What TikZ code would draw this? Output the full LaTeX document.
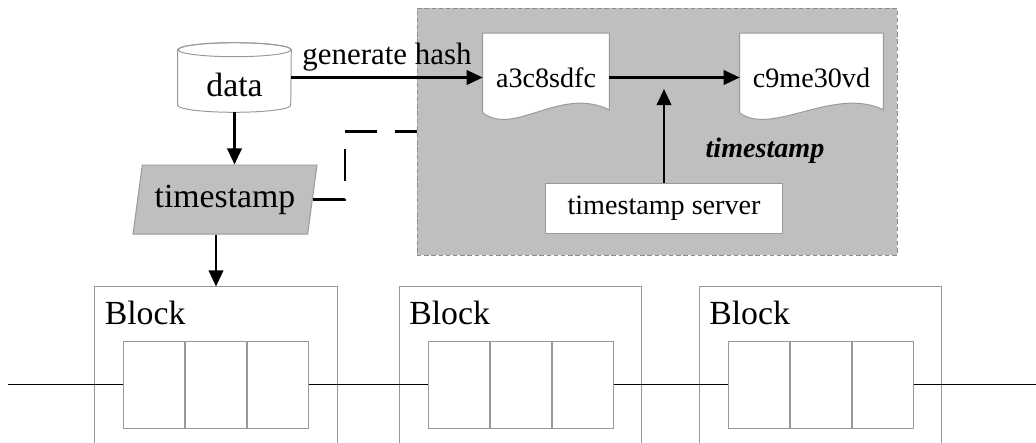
\documentclass[tikz,border=0pt]{standalone}
\usepackage{fontspec}
\setmainfont{Liberation Serif}
\usetikzlibrary{shapes.geometric,arrows.meta,calc,positioning,backgrounds}

\begin{document}
\begin{tikzpicture}[x=0.025cm, y=0.025cm,
    every node/.style={inner sep=0pt, text=black},
    boxline/.style={draw=gray!80, line width=0.7pt},
    link/.style={line width=1.6pt, -{Triangle[length=0.4cm, width=0.36cm]}},
    chain/.style={line width=1.3pt},
    dashlink/.style={line width=1.6pt, dash pattern=on 0.8cm off 0.45cm},
    bigtext/.style={font=\fontsize{24}{28}\selectfont},
    midtext/.style={font=\fontsize{20}{24}\selectfont},
    hashdoc/.style={midtext, minimum height=2.2cm},
    tsarea/.style={fill=gray!50, draw=gray!90, line width=0.6pt, dash pattern=on 0.11cm off 0.07cm,
      minimum width=12cm, minimum height=6.175cm},
    srvbox/.style={boxline, fill=white, midtext, minimum width=5.9cm, minimum height=1.25cm},
    stampbox/.style={trapezium, trapezium left angle=75, trapezium right angle=105, trapezium stretches=true,
      boxline, fill=gray!50, bigtext, minimum width=4.6cm, minimum height=1.725cm},
    blockbox/.style={boxline, minimum width=6.05cm, minimum height=5cm},
    cell/.style={boxline, fill=white, minimum width=1.525cm, minimum height=2.175cm},
    ]
    \useasboundingbox (0,0) rectangle (1036,-442);
    \clip (0,0) rectangle (1036,-442);

    % data store and the two hash documents
    \node[minimum width=2.825cm, minimum height=1.725cm,
      label={[bigtext, name=datatxt, yshift=-0.19cm]center:data}] (data) at (234.5,-77.5) {};
    \node[hashdoc, minimum width=3.15cm] (hashA) at (546,-77.5) {a3c8sdfc};
    \node[hashdoc, minimum width=3.575cm] (hashB) at (811.5,-77.5) {c9me30vd};

    \begin{scope}[on background layer]
      \node[tsarea] (tsarea) at (657,-131.5) {};
      \draw[boxline, fill=white] ($(data.north west)+(0,-7)$) -- ($(data.south west)+(0,7)$)
        arc[start angle=180, end angle=360, x radius=56.5, y radius=7]
        -- ($(data.north east)+(0,-7)$)
        arc[start angle=0, end angle=180, x radius=56.5, y radius=7] -- cycle;
      \draw[boxline] ($(data.north)+(0,-7)$) ellipse[x radius=56.5, y radius=7];
      \foreach \d in {hashA,hashB}
        \draw[boxline, fill=white] ($(\d.south west)+(0,9)$) -- (\d.north west) -- (\d.north east)
          -- ($(\d.south east)+(0,12)$) .. controls +(-49,24) and +(32,-24) .. ($(\d.south west)+(0,9)$) -- cycle;
    \end{scope}

    \node[srvbox] (server) at (664,-208) {timestamp server};
    \node[midtext, font=\fontsize{20}{24}\selectfont\bfseries\itshape] (tslabel) at (765,-151) {timestamp};
    \coordinate (srvin) at (664,-89);

    \node[stampbox] (stamp) at (225,-199.5) {timestamp};

    % blocks
    \foreach \bx [count=\i] in {216,520.5,820.5} {
      \node[blockbox] (blk\i) at (\bx,-387) {};
      \node[bigtext, anchor=north west] (blk\i lbl) at ($(blk\i.north west)+(10,-14)$) {Block};
      \node[cell] (cell\i-2) at (\bx,-384.5) {};
      \node[cell, left=0pt of cell\i-2] (cell\i-1) {};
      \node[cell, right=0pt of cell\i-2] (cell\i-3) {};
    }
    \coordinate (chainin) at (8,-384.5);
    \coordinate (chainout) at (1036,-384.5);

    % connectors
    \draw[link] (data.east) -- node[above=0.14cm, font=\fontsize{22}{26}\selectfont] (hashlbl) {generate hash} (hashA.west);
    \draw[link] (hashA.east) -- (hashB.west);
    \draw[link] (server.north) -- (srvin);
    \draw[link] (data.south) -- (data.south |- stamp.north);
    \draw[link] (stamp.south -| blk1.north) -- (blk1.north);
    \draw[dashlink] (stamp.east) -- ++(32,0) |- (tsarea.west);

    \draw[chain] (chainin) -- (cell1-1.west);
    \draw[chain] (cell1-3.east) -- (cell2-1.west);
    \draw[chain] (cell2-3.east) -- (cell3-1.west);
    \draw[chain] (cell3-3.east) -- (chainout);

\end{tikzpicture}
\end{document}
